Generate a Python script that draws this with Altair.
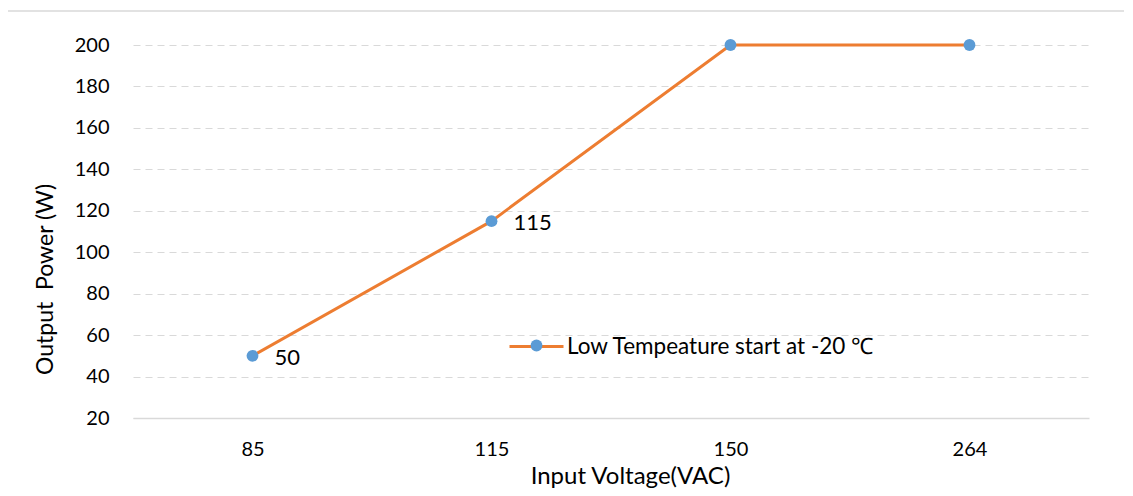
import altair as alt
import pandas as pd

voltages = ["85", "115", "150", "264"]
power = [50, 115, 200, 200]
point_labels = ["50", "115", "", ""]
series_name = "Low Tempeature start at -20 ℃"
y_ticks = [20, 40, 60, 80, 100, 120, 140, 160, 180, 200]

df = pd.DataFrame({
    "Input Voltage(VAC)": voltages,
    "Output Power": power,
    "label": point_labels,
    "series": [series_name] * len(voltages),
})

FONT = "Lato"
ORANGE = "#ED7D31"
BLUE = "#5B9BD5"
GRID = "#D9D9D9"

x_enc = alt.X(
    "Input Voltage(VAC):N",
    sort=voltages,
    scale=alt.Scale(type="point", padding=0.5),
    axis=alt.Axis(
        title="Input Voltage(VAC)",
        labelAngle=0,
        ticks=False,
        grid=False,
        domain=True,
        domainColor=GRID,
        domainWidth=1.5,
        labelPadding=21,
        labelFontSize=20,
        labelColor="#000000",
        titleFontSize=24,
        titleColor="#000000",
        titleFontWeight="normal",
        titleX=497,
        titleY=46,
        titleBaseline="top",
    ),
)
y_enc = alt.Y(
    "Output Power:Q",
    scale=alt.Scale(domain=[20, 200], nice=False, zero=False),
    axis=alt.Axis(
        title="Output\u00a0 Power (W)",
        values=y_ticks,
        ticks=False,
        domain=False,
        grid=True,
        gridColor=GRID,
        gridDash=[7, 5],
        gridWidth=1.2,
        labelPadding=24,
        labelFontSize=20,
        labelColor="#000000",
        titleFontSize=23,
        titleColor="#000000",
        titleFontWeight="normal",
        titleX=-88,
        titleY=234,
        titleAngle=-90,
        titleBaseline="middle",
    ),
)

base = alt.Chart(df)

frame = base.mark_rect(fill=None, stroke=GRID, strokeWidth=1.5).encode(
    x=alt.value(-126), x2=alt.value(1200), y=alt.value(-34), y2=alt.value(600)
).transform_filter("datum.label == '50'")

line = base.mark_line(strokeWidth=3).encode(
    x=x_enc,
    y=y_enc,
    stroke=alt.Stroke(
        "series:N",
        scale=alt.Scale(range=[ORANGE]),
        legend=alt.Legend(
            title=None,
            orient="none",
            legendX=375,
            legendY=273,
            symbolType="stroke",
            symbolSize=2916,
            symbolStrokeWidth=3,
            labelFontSize=22.5,
            labelFont=FONT,
            labelColor="#000000",
            labelOffset=2,
            labelLimit=500,
        ),
    ),
)

points = base.mark_point(filled=True, size=140, opacity=1).encode(
    x=alt.X("Input Voltage(VAC):N", sort=voltages),
    y="Output Power:Q",
    fill=alt.Fill(
        "series:N",
        scale=alt.Scale(range=[BLUE]),
        legend=alt.Legend(
            title=None,
            orient="none",
            legendX=395,
            legendY=292,
            symbolType="circle",
            symbolSize=140,
            symbolStrokeWidth=0,
            labelOpacity=0,
            labelFontSize=17,
            labelLimit=1,
        ),
    ),
)

labels = base.mark_text(
    align="left", baseline="middle", dx=22, dy=2, fontSize=22, font=FONT, color="#000000"
).encode(
    x=alt.X("Input Voltage(VAC):N", sort=voltages),
    y="Output Power:Q",
    text="label:N",
)

chart = (
    alt.layer(frame, line, points, labels)
    .resolve_legend(stroke="independent", fill="independent")
    .properties(
        width=956,
        height=373,
        autosize=alt.AutoSizeParams(type="none"),
        padding={"left": 125, "top": 37, "right": 35, "bottom": 70},
    )
    .configure(font=FONT)
    .configure_view(stroke=None)
)

chart.save("out.html", embed_options={"renderer": "svg", "actions": False})
